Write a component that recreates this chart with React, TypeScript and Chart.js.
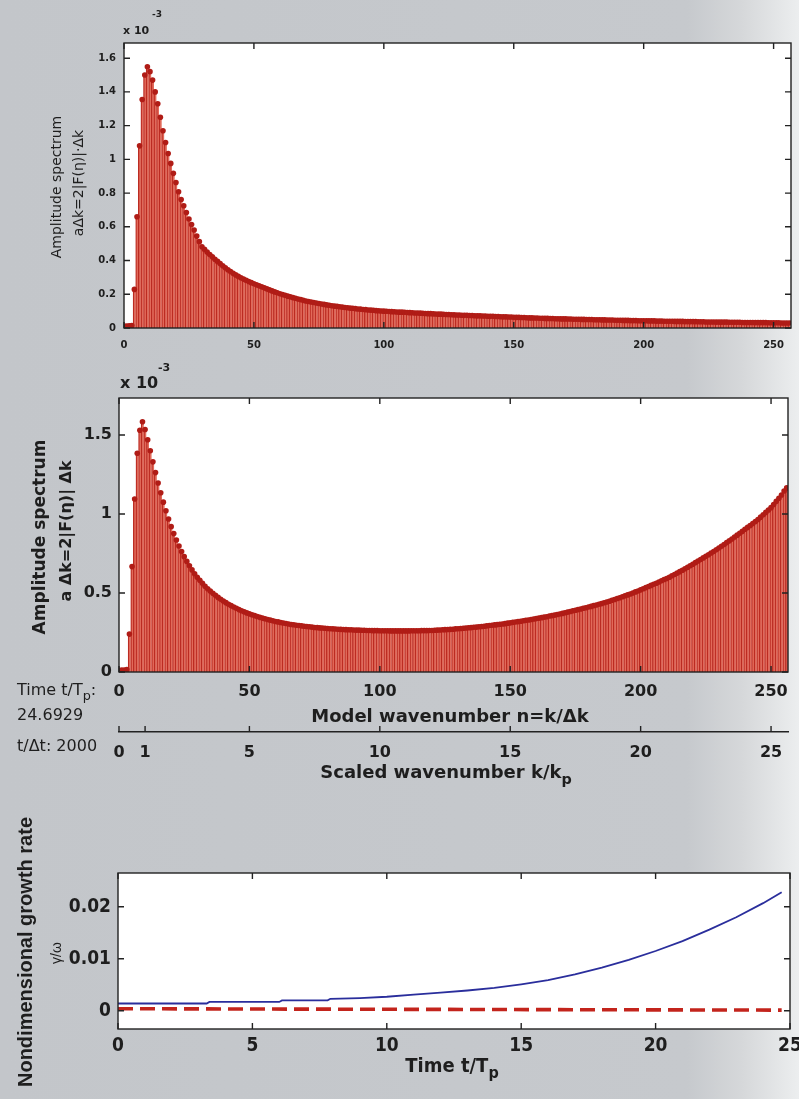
import React, { useEffect, useRef } from "react";
import { Chart, registerables } from "chart.js";

Chart.register(...registerables);

// ---------------- data ----------------
// model wavenumber index n = k/Δk (categories 0..256)
const WAVENUMBER_N: number[] = Array.from({ length: 257 }, (_, i) => i);

// amplitude spectrum (×10^-3), upper panel
const TOP_AMPLITUDE = [
  0.010, 0.012, 0.013, 0.015, 0.229, 0.660, 1.080, 1.355, 1.500, 1.549,
  1.520, 1.470, 1.400, 1.330, 1.250, 1.170, 1.100, 1.035, 0.976, 0.917,
  0.863, 0.808, 0.762, 0.725, 0.685, 0.646, 0.614, 0.581, 0.545, 0.512,
  0.482, 0.466, 0.450, 0.436, 0.422, 0.408, 0.395, 0.382, 0.369, 0.357,
  0.345, 0.335, 0.325, 0.315, 0.306, 0.298, 0.290, 0.283, 0.276, 0.269,
  0.262, 0.256, 0.250, 0.244, 0.238, 0.232, 0.226, 0.220, 0.214, 0.209,
  0.203, 0.198, 0.194, 0.189, 0.185, 0.180, 0.176, 0.172, 0.168, 0.164,
  0.160, 0.157, 0.154, 0.151, 0.148, 0.145, 0.142, 0.140, 0.137, 0.135,
  0.132, 0.130, 0.128, 0.126, 0.124, 0.122, 0.120, 0.118, 0.117, 0.115,
  0.113, 0.112, 0.110, 0.109, 0.107, 0.106, 0.105, 0.103, 0.102, 0.101,
  0.100, 0.099, 0.098, 0.097, 0.096, 0.095, 0.094, 0.094, 0.093, 0.092,
  0.091, 0.090, 0.089, 0.089, 0.088, 0.087, 0.086, 0.085, 0.085, 0.084,
  0.083, 0.082, 0.082, 0.081, 0.080, 0.080, 0.079, 0.078, 0.077, 0.077,
  0.076, 0.075, 0.075, 0.074, 0.074, 0.073, 0.072, 0.072, 0.071, 0.071,
  0.070, 0.069, 0.069, 0.068, 0.068, 0.067, 0.066, 0.066, 0.065, 0.065,
  0.064, 0.063, 0.063, 0.062, 0.062, 0.061, 0.060, 0.060, 0.059, 0.059,
  0.058, 0.058, 0.057, 0.057, 0.056, 0.056, 0.055, 0.055, 0.054, 0.054,
  0.054, 0.053, 0.053, 0.052, 0.052, 0.052, 0.051, 0.051, 0.050, 0.050,
  0.050, 0.049, 0.049, 0.049, 0.048, 0.048, 0.047, 0.047, 0.047, 0.046,
  0.046, 0.046, 0.045, 0.045, 0.045, 0.044, 0.044, 0.044, 0.043, 0.043,
  0.043, 0.043, 0.042, 0.042, 0.042, 0.041, 0.041, 0.041, 0.040, 0.040,
  0.040, 0.040, 0.039, 0.039, 0.039, 0.039, 0.038, 0.038, 0.038, 0.038,
  0.038, 0.037, 0.037, 0.037, 0.036, 0.036, 0.036, 0.036, 0.035, 0.035,
  0.035, 0.035, 0.035, 0.034, 0.034, 0.034, 0.034, 0.034, 0.033, 0.033,
  0.033, 0.033, 0.033, 0.032, 0.032, 0.032, 0.032, 0.032, 0.031, 0.031,
  0.031, 0.031, 0.031, 0.030, 0.030, 0.030, 0.030,
];

// amplitude spectrum (×10^-3), middle panel, t/Tp = 24.6929
const MID_AMPLITUDE = [
  0.010, 0.012, 0.013, 0.015, 0.240, 0.667, 1.095, 1.384, 1.530, 1.584,
  1.535, 1.470, 1.400, 1.330, 1.262, 1.196, 1.134, 1.075, 1.020, 0.968,
  0.920, 0.876, 0.835, 0.797, 0.762, 0.730, 0.700, 0.672, 0.646, 0.622,
  0.600, 0.580, 0.561, 0.543, 0.527, 0.512, 0.498, 0.485, 0.472, 0.460,
  0.449, 0.439, 0.429, 0.420, 0.411, 0.403, 0.395, 0.388, 0.381, 0.374,
  0.368, 0.362, 0.357, 0.351, 0.346, 0.341, 0.337, 0.332, 0.328, 0.324,
  0.320, 0.317, 0.313, 0.310, 0.307, 0.304, 0.301, 0.299, 0.296, 0.294,
  0.292, 0.290, 0.288, 0.286, 0.284, 0.282, 0.281, 0.279, 0.278, 0.277,
  0.275, 0.274, 0.273, 0.272, 0.271, 0.270, 0.269, 0.268, 0.267, 0.267,
  0.266, 0.265, 0.265, 0.264, 0.264, 0.263, 0.263, 0.262, 0.262, 0.262,
  0.261, 0.261, 0.261, 0.261, 0.260, 0.260, 0.260, 0.260, 0.260, 0.260,
  0.260, 0.260, 0.261, 0.261, 0.261, 0.261, 0.262, 0.262, 0.262, 0.263,
  0.263, 0.264, 0.265, 0.266, 0.267, 0.268, 0.269, 0.270, 0.271, 0.273,
  0.274, 0.275, 0.277, 0.278, 0.280, 0.281, 0.283, 0.284, 0.286, 0.288,
  0.290, 0.292, 0.294, 0.296, 0.298, 0.300, 0.302, 0.304, 0.306, 0.309,
  0.311, 0.314, 0.316, 0.319, 0.321, 0.324, 0.327, 0.329, 0.332, 0.335,
  0.338, 0.341, 0.344, 0.347, 0.350, 0.354, 0.357, 0.360, 0.364, 0.367,
  0.371, 0.375, 0.379, 0.383, 0.387, 0.391, 0.395, 0.399, 0.403, 0.407,
  0.411, 0.415, 0.420, 0.424, 0.429, 0.433, 0.438, 0.443, 0.448, 0.454,
  0.459, 0.465, 0.470, 0.476, 0.482, 0.488, 0.494, 0.500, 0.507, 0.513,
  0.520, 0.527, 0.534, 0.541, 0.548, 0.555, 0.562, 0.570, 0.577, 0.585,
  0.592, 0.600, 0.609, 0.617, 0.626, 0.635, 0.644, 0.653, 0.663, 0.672,
  0.682, 0.692, 0.702, 0.712, 0.722, 0.732, 0.742, 0.753, 0.763, 0.774,
  0.785, 0.796, 0.807, 0.819, 0.830, 0.842, 0.854, 0.866, 0.878, 0.890,
  0.903, 0.915, 0.927, 0.940, 0.952, 0.965, 0.980, 0.995, 1.010, 1.025,
  1.040, 1.060, 1.080, 1.100, 1.120, 1.145, 1.165,
];

const TOP_Y_TICKS = [0, 0.2, 0.4, 0.6, 0.8, 1, 1.2, 1.4, 1.6];
const MID_Y_TICKS = [0, 0.5, 1, 1.5];
const N_TICKS = [0, 50, 100, 150, 200, 250];
const SCALED_TICKS = [0, 1, 5, 10, 15, 20, 25];

// growth rate vs time
const GROWTH_TIME = [0, 3.3, 3.4, 6.0, 6.1, 7.8, 7.9, 9, 10, 11, 12, 13, 14, 15, 16, 17, 18, 19, 20, 21, 22, 23, 24, 24.69];
const GROWTH_RATE = [0.0014, 0.0014, 0.0017, 0.0017, 0.0020, 0.0020, 0.0023, 0.00245, 0.0027, 0.0031, 0.0035, 0.0039, 0.0044, 0.0051, 0.0059, 0.0070, 0.0083, 0.0098, 0.0115, 0.0134, 0.0156, 0.0180, 0.0207, 0.0228];
const DAMPING_TIME = [0, 24.69];
const DAMPING_RATE = [0.0004, 0.00013];
const TIME_TICKS = [0, 5, 10, 15, 20, 25];
const RATE_TICKS = [0, 0.01, 0.02];

// ---------------- styling ----------------
const DV = '"DejaVu Sans", sans-serif';
const NARROW = '"Liberation Sans Narrow", "DejaVu Sans Condensed", "Arial Narrow", sans-serif';
const LIB = '"Liberation Sans", Arial, sans-serif';
const INK = "#1e1e1e";

const framePlugin = {
  id: "matlabFrame",
  beforeDraw(chart: any) {
    const a = chart.chartArea;
    const ctx = chart.ctx;
    ctx.save();
    ctx.fillStyle = "#ffffff";
    ctx.fillRect(a.left, a.top, a.right - a.left, a.bottom - a.top);
    ctx.restore();
  },
  afterDraw(chart: any) {
    const a = chart.chartArea;
    const ctx = chart.ctx;
    const L = 6;
    ctx.save();
    ctx.strokeStyle = "#222";
    ctx.lineWidth = 1.4;
    ctx.strokeRect(a.left, a.top, a.right - a.left, a.bottom - a.top);
    ctx.beginPath();
    const xs = chart.scales.x;
    const ys = chart.scales.y;
    xs.ticks.forEach((t: any) => {
      const p = xs.getPixelForValue(t.value);
      ctx.moveTo(p, a.top);
      ctx.lineTo(p, a.top + L);
      ctx.moveTo(p, a.bottom);
      ctx.lineTo(p, a.bottom - L);
    });
    ys.ticks.forEach((t: any) => {
      const p = ys.getPixelForValue(t.value);
      ctx.moveTo(a.left, p);
      ctx.lineTo(a.left + L, p);
      ctx.moveTo(a.right, p);
      ctx.lineTo(a.right - L, p);
    });
    const x2 = chart.scales.x2;
    if (x2) {
      x2.ticks.forEach((t: any) => {
        const p = x2.getPixelForValue(t.value);
        ctx.moveTo(p, x2.top);
        ctx.lineTo(p, x2.top - L);
      });
    }
    ctx.stroke();
    ctx.restore();
  },
};

const setTicks = (list: number[]) => (s: any) => {
  s.ticks = list.map((v) => ({ value: v }));
};
const fitH = (h: number) => (s: any) => {
  s.height = h;
  s.paddingLeft = 0;
  s.paddingRight = 0;
};
const fitW = (w: number) => (s: any) => {
  s.width = w;
  s.paddingTop = 0;
  s.paddingBottom = 0;
};

function spectrumDatasets(values: number[], dotR: number) {
  const pts = WAVENUMBER_N.map((n, i) => ({ x: n, y: values[i] }));
  return [
    {
      type: "line",
      data: pts,
      showLine: false,
      pointRadius: dotR,
      pointBackgroundColor: "#b01c16",
      pointBorderWidth: 0,
      order: 0,
    },
    {
      type: "bar",
      data: pts,
      backgroundColor: "#e26a5a",
      borderColor: "#bb2b22",
      borderWidth: { left: 1.7, right: 0, top: 0, bottom: 0 },
      borderSkipped: false,
      barPercentage: 1,
      categoryPercentage: 1,
      order: 1,
    },
  ];
}

function topConfig(): any {
  const tickFont = { family: DV, size: 10, weight: "bold" };
  return {
    type: "bar",
    data: { datasets: spectrumDatasets(TOP_AMPLITUDE, 2.8) },
    options: {
      responsive: false,
      animation: false,
      events: [],
      layout: { padding: { left: 0, top: 43, right: 8, bottom: 0 } },
      plugins: { legend: { display: false }, tooltip: { enabled: false } },
      scales: {
        x: {
          type: "linear", min: 0, max: 256.7, offset: false,
          grid: { display: false, drawTicks: false }, border: { display: false },
          afterBuildTicks: setTicks(N_TICKS), afterFit: fitH(27),
          ticks: { padding: 11, color: INK, font: tickFont, maxRotation: 0, autoSkip: false, callback: (v: any) => String(v) },
        },
        y: {
          type: "linear", min: 0, max: 1.69,
          grid: { display: false, drawTicks: false }, border: { display: false },
          afterBuildTicks: setTicks(TOP_Y_TICKS), afterFit: fitW(124),
          ticks: { padding: 8, color: INK, font: tickFont, autoSkip: false, callback: (v: any) => String(v) },
        },
      },
    },
    plugins: [framePlugin],
  };
}

function midConfig(): any {
  const tickFont = { family: DV, size: 16, weight: "bold" };
  return {
    type: "bar",
    data: { datasets: spectrumDatasets(MID_AMPLITUDE, 2.8) },
    options: {
      responsive: false,
      animation: false,
      events: [],
      layout: { padding: { left: 0, top: 43, right: 11, bottom: 0 } },
      plugins: { legend: { display: false }, tooltip: { enabled: false } },
      scales: {
        x: {
          type: "linear", min: 0, max: 256.5, offset: false, weight: 0,
          grid: { display: false, drawTicks: false }, border: { display: false },
          afterBuildTicks: setTicks(N_TICKS), afterFit: fitH(60),
          ticks: { padding: 10, color: INK, font: tickFont, maxRotation: 0, autoSkip: false, callback: (v: any) => String(v) },
        },
        x2: {
          type: "linear", position: "bottom", min: 0, max: 25.65, offset: false, weight: 1,
          grid: { display: false, drawTicks: false },
          border: { display: true, color: "#222", width: 1.5 },
          afterBuildTicks: setTicks(SCALED_TICKS), afterFit: fitH(68),
          ticks: { padding: 11, color: INK, font: tickFont, maxRotation: 0, autoSkip: false, callback: (v: any) => String(v) },
        },
        y: {
          type: "linear", min: 0, max: 1.734,
          grid: { display: false, drawTicks: false }, border: { display: false },
          afterBuildTicks: setTicks(MID_Y_TICKS), afterFit: fitW(119),
          ticks: { padding: 7, color: INK, font: tickFont, autoSkip: false, callback: (v: any) => String(v) },
        },
      },
    },
    plugins: [framePlugin],
  };
}

function growthConfig(): any {
  const tickFont = { family: NARROW, size: 19, weight: "bold" };
  return {
    type: "line",
    data: {
      datasets: [
        {
          data: DAMPING_TIME.map((t, i) => ({ x: t, y: DAMPING_RATE[i] })),
          borderColor: "#c3241c",
          borderWidth: 3.6,
          borderDash: [15, 7],
          pointRadius: 0,
          tension: 0,
          order: 1,
        },
        {
          data: GROWTH_TIME.map((t, i) => ({ x: t, y: GROWTH_RATE[i] })),
          borderColor: "#2a2e9c",
          borderWidth: 1.8,
          pointRadius: 0,
          tension: 0,
          order: 0,
        },
      ],
    },
    options: {
      responsive: false,
      animation: false,
      events: [],
      layout: { padding: { left: 0, top: 73, right: 9, bottom: 0 } },
      plugins: { legend: { display: false }, tooltip: { enabled: false } },
      scales: {
        x: {
          type: "linear", min: 0, max: 25,
          grid: { display: false, drawTicks: false }, border: { display: false },
          afterBuildTicks: setTicks(TIME_TICKS), afterFit: fitH(70),
          ticks: { padding: 6, color: INK, font: tickFont, maxRotation: 0, autoSkip: false, callback: (v: any) => String(v) },
        },
        y: {
          type: "linear", min: -0.0035, max: 0.0265,
          grid: { display: false, drawTicks: false }, border: { display: false },
          afterBuildTicks: setTicks(RATE_TICKS), afterFit: fitW(118),
          ticks: { padding: 7, color: INK, font: tickFont, autoSkip: false, callback: (v: any) => String(v) },
        },
      },
    },
    plugins: [framePlugin],
  };
}

// ---------------- text helper ----------------
type LabelProps = {
  x: number;
  y: number;
  size: number;
  weight?: number | string;
  family?: string;
  anchor?: "start" | "middle" | "end";
  rotate?: boolean;
  color?: string;
  children: React.ReactNode;
};

function Label({ x, y, size, weight = "normal", family = DV, anchor = "start", rotate = false, color = INK, children }: LabelProps) {
  const tx = anchor === "start" ? "0" : anchor === "middle" ? "-50%" : "-100%";
  return (
    <div
      style={{
        position: "absolute",
        left: x,
        top: y,
        fontFamily: family,
        fontSize: size,
        fontWeight: weight as any,
        color,
        lineHeight: 1,
        whiteSpace: "nowrap",
        transform: rotate ? "translate(-50%,-50%) rotate(-90deg)" : `translate(${tx},-50%)`,
      }}
    >
      {children}
    </div>
  );
}

const Sub = ({ children }: { children: React.ReactNode }) => (
  <span style={{ fontSize: "0.8em", position: "relative", top: "0.4em" }}>{children}</span>
);

export default function App() {
  const c1 = useRef<HTMLCanvasElement>(null);
  const c2 = useRef<HTMLCanvasElement>(null);
  const c3 = useRef<HTMLCanvasElement>(null);

  useEffect(() => {
    const charts = [
      new Chart(c1.current as HTMLCanvasElement, topConfig()),
      new Chart(c2.current as HTMLCanvasElement, midConfig()),
      new Chart(c3.current as HTMLCanvasElement, growthConfig()),
    ];
    return () => charts.forEach((c) => c.destroy());
  }, []);

  return (
    <div
      style={{
        position: "absolute",
        left: 0,
        top: 0,
        width: 799,
        height: 1099,
        overflow: "hidden",
        background: "linear-gradient(90deg, #c3c6ca 0%, #c6c9cd 86%, #d6d8da 93%, #eceeef 100%)",
      }}
    >
      <canvas ref={c1} width={799} height={355} style={{ position: "absolute", left: 0, top: 0, width: 799, height: 355 }} />
      <canvas ref={c2} width={799} height={445} style={{ position: "absolute", left: 0, top: 355, width: 799, height: 445 }} />
      <canvas ref={c3} width={799} height={299} style={{ position: "absolute", left: 0, top: 800, width: 799, height: 299 }} />

      {/* upper panel texts */}
      <Label x={123} y={30} size={11} weight="bold">x 10</Label>
      <Label x={157} y={14} size={9} weight="bold" anchor="middle">-3</Label>
      <Label x={56} y={187} size={14} rotate>Amplitude spectrum</Label>
      <Label x={78} y={183} size={14} rotate>aΔk=2|F(η)|·Δk</Label>

      {/* middle panel texts */}
      <Label x={120} y={383} size={16} weight="bold">x 10</Label>
      <Label x={164} y={367} size={11} weight="bold" anchor="middle">-3</Label>
      <Label x={39} y={537} size={17} weight="bold" rotate>Amplitude spectrum</Label>
      <Label x={66} y={531} size={16} weight="bold" rotate>a Δk=2|F(η)| Δk</Label>
      <Label x={450} y={716} size={18} weight="bold" anchor="middle">Model wavenumber n=k/Δk</Label>
      <Label x={446} y={772} size={18} weight="bold" anchor="middle">
        Scaled wavenumber k/k<Sub>p</Sub>
      </Label>
      <Label x={17} y={690} size={16}>
        Time t/T<Sub>p</Sub>:
      </Label>
      <Label x={17} y={715} size={16}>24.6929</Label>
      <Label x={17} y={746} size={16}>t/Δt: 2000</Label>

      {/* bottom panel texts */}
      <Label x={25} y={952} size={20} weight="bold" family={LIB} rotate>Nondimensional growth rate</Label>
      <Label x={56} y={953} size={14} family={LIB} rotate>γ/ω</Label>
      <Label x={452} y={1065} size={20} weight="bold" family={NARROW} anchor="middle">
        Time t/T<Sub>p</Sub>
      </Label>
    </div>
  );
}
